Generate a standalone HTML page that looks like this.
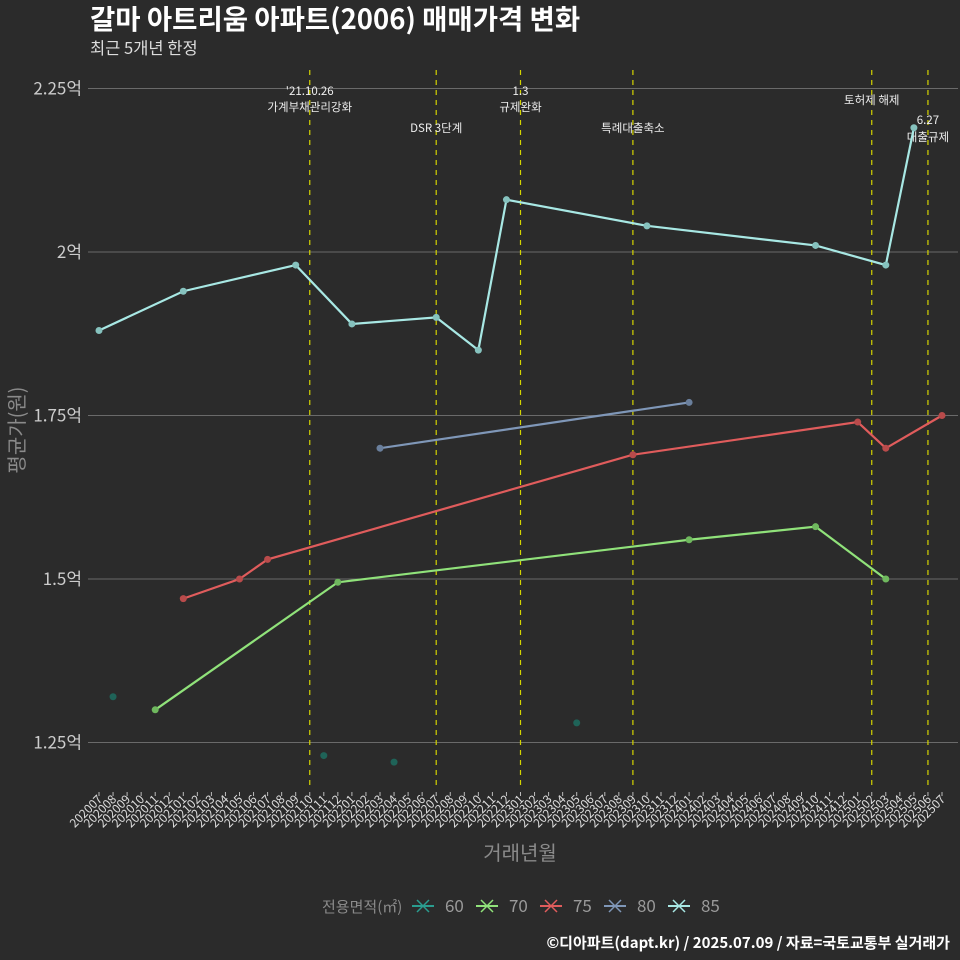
<!DOCTYPE html>
<html><head><meta charset="utf-8">
<style>
body{margin:0;background:#2b2b2b;}
svg{display:block;font-family:"Noto Sans CJK KR","Liberation Sans",sans-serif;}
</style></head>
<body>
<svg id="chart" width="960" height="960" viewBox="0 0 960 960">
<rect width="960" height="960" fill="#2b2b2b"/>
<text x="90" y="29" fill="#fff" font-size="27.5" font-weight="bold">갈마 아트리움 아파트(2006) 매매가격 변화</text>
<text x="90" y="54" fill="#ddd" font-size="16.5">최근 5개년 한정</text>
<g id="grid"></g>
<g id="vlines"></g>
<g id="series"></g>
<g id="xaxis"></g>
<text x="0" y="0" transform="translate(24,430) rotate(-90)" text-anchor="middle" fill="#8a8a8a" font-size="20">평균가(원)</text>
<text x="520" y="860" text-anchor="middle" fill="#8a8a8a" font-size="20">거래년월</text>
<g id="legend"></g>
<text x="950" y="948" text-anchor="end" fill="#fff" font-size="15" font-weight="bold">©디아파트(dapt.kr) / 2025.07.09 / 자료=국토교통부 실거래가</text>
</svg>
<script>
const months = [];
for (let y = 2020; y <= 2025; y++) for (let m = 1; m <= 12; m++) { const s = y + String(m).padStart(2,'0'); if (s >= '202007' && s <= '202507') months.push(s); }
const yTicks = [1.25, 1.5, 1.75, 2.0, 2.25];
const yTickLabels = ['1.25억','1.5억','1.75억','2억','2.25억'];
const s60x = ['202008','202111','202204','202305'];
const s60y = [1.32, 1.23, 1.22, 1.28];
const s70x = ['202011','202112','202401','202410','202503'];
const s70y = [1.30, 1.495, 1.56, 1.58, 1.50];
const s75x = ['202101','202105','202107','202309','202501','202503','202507'];
const s75y = [1.47, 1.50, 1.53, 1.69, 1.74, 1.70, 1.75];
const s80x = ['202203','202401'];
const s80y = [1.70, 1.77];
const s85x = ['202007','202101','202109','202201','202207','202210','202212','202310','202410','202503','202505'];
const s85y = [1.88, 1.94, 1.98, 1.89, 1.90, 1.85, 2.08, 2.04, 2.01, 1.98, 2.19];
const eventMonths = ['202110','202207','202301','202309','202502','202506'];
const eventLabels = [["'21.10.26","가계부채관리강화"],["DSR 3단계"],["1.3","규제완화"],["특례대출축소"],["토허제 해제"],["6.27","대출규제"]];
const eventLabelY = [[91,107],[128],[91,107],[128],[100],[120,137]];

const NS = 'http://www.w3.org/2000/svg';
const X = m => 99 + months.indexOf(m) * 14.05;
const Y = v => 252 - (v - 2) * 654;
function mk(tag, attrs, parent, text) { const e = document.createElementNS(NS, tag); for (const k in attrs) e.setAttribute(k, attrs[k]); if (text !== undefined) e.textContent = text; parent.appendChild(e); return e; }

const grid = document.getElementById('grid');
yTicks.forEach((v, i) => {
  const l = mk('line', {x1: 88, x2: 958, y1: Y(v), y2: Y(v), stroke: '#6a6a6a', 'stroke-width': 1}, grid);
  
  
  const t = mk('text', {x: 82, y: Y(v) + 6, 'text-anchor': 'end', fill: '#ccc', 'font-size': 17}, grid, yTickLabels[i]);
  
  
});

const vl = document.getElementById('vlines');
eventMonths.forEach((m, i) => {
  const l = mk('line', {x1: X(m), x2: X(m), y1: 70, y2: 788, stroke: '#d4d400', 'stroke-width': 1.2, 'stroke-dasharray': '5,5'}, vl);
  
  
  eventLabels[i].forEach((s, j) => {
    const t = mk('text', {x: X(m), y: eventLabelY[i][j] + 4, 'text-anchor': 'middle', fill: '#eee', 'font-size': 11.5}, vl, s);
    
    
  });
});

const ser = document.getElementById('series');
const defs = [
  ['60', s60x, s60y, '#2a9d8f', '#1f6358', false],
  ['70', s70x, s70y, '#90e27a', '#6fb85e', true],
  ['75', s75x, s75y, '#e05c5c', '#b94b4b', true],
  ['80', s80x, s80y, '#7f97b8', '#6a7f9c', true],
  ['85', s85x, s85y, '#a8e8e4', '#86c2be', true]
];
defs.forEach(([name, xs, ys, col, pcol, line]) => {
  const g = mk('g', {}, ser);
  
  
  if (line) {
    const p = mk('polyline', {points: xs.map((m, i) => X(m) + ',' + Y(ys[i])).join(' '), fill: 'none', stroke: col, 'stroke-width': 2.2}, g);
    
    
  }
  xs.forEach((m, i) => {
    const c = mk('circle', {cx: X(m), cy: Y(ys[i]), r: 3.5, fill: pcol}, g);
    
    
  });
});

const xa = document.getElementById('xaxis');
months.forEach(m => {
  const x = X(m);
  const tk = mk('line', {x1: x, x2: x, y1: 792, y2: 796, stroke: '#bbb', 'stroke-width': 1}, xa);
  
  
  const t = mk('text', {x: 0, y: 0, transform: `translate(${x + 4},${800}) rotate(-45)`, 'text-anchor': 'end', fill: '#ddd', 'font-size': 12}, xa, m);
  
  
});

const lg = document.getElementById('legend');
const lt = mk('text', {x: 322, y: 912, fill: '#8a8a8a', 'font-size': 15}, lg, '전용면적(㎡)');


const lx = [412, 476, 540, 604, 668];
defs.forEach(([name, , , col], i) => {
  const g = mk('g', {}, lg);
  
  
  const x = lx[i];
  mk('line', {x1: x, x2: x + 22, y1: 906, y2: 906, stroke: col, 'stroke-width': 2}, g);
  mk('line', {x1: x + 5, x2: x + 17, y1: 900, y2: 912, stroke: col, 'stroke-width': 1.5}, g);
  mk('line', {x1: x + 5, x2: x + 17, y1: 912, y2: 900, stroke: col, 'stroke-width': 1.5}, g);
  mk('text', {x: x + 33, y: 912, fill: '#9a9a9a', 'font-size': 17}, g, name);
});
</script>
</body></html>
